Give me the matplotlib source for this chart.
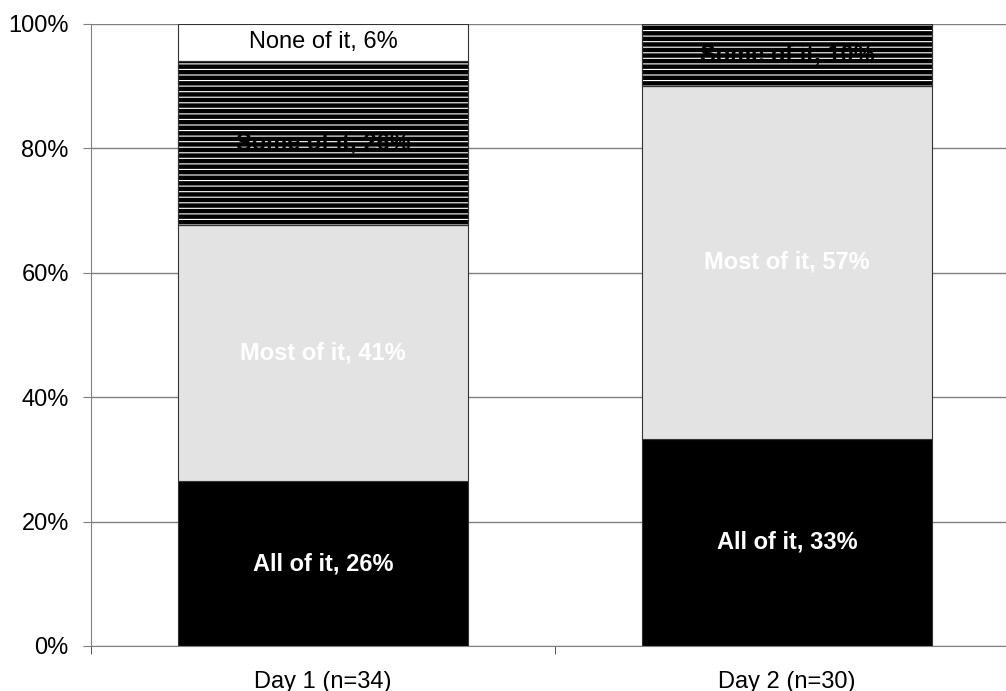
import matplotlib.pyplot as plt
import numpy as np

plt.rcParams["font.family"] = ["Liberation Sans", "DejaVu Sans"]
plt.rcParams["hatch.linewidth"] = 0.8

# responses per day (counts), stacked bottom to top
days = ["Day 1", "Day 2"]
n_resp = [34, 30]
segments = ["All of it", "Most of it", "Some of it", "None of it"]
counts_day1 = [9, 14, 9, 2]
counts_day2 = [10, 17, 3, 0]

face_colors = ["black", "#e3e3e3", "black", "white"]
text_colors = ["white", "white", "black", "black"]
text_weights = ["bold", "bold", "bold", "normal"]

pct = np.array([counts_day1, counts_day2], dtype=float)
pct = pct / np.array(n_resp)[:, None] * 100

fig = plt.figure(figsize=(10.06, 6.91), dpi=100)
ax = fig.add_axes([91 / 1006, 45 / 691, 928 / 1006, 622 / 691])

x = np.arange(len(days))
width = 0.627
bottoms = np.zeros(len(days))
fs = 17

for j, seg in enumerate(segments):
    vals = pct[:, j]
    ax.bar(x, vals, width, bottom=bottoms, color=face_colors[j],
           edgecolor="#333333", linewidth=0.8, zorder=2)
    if seg == "Some of it":
        # striped fill: light lines over the black base
        ax.bar(x, vals, width, bottom=bottoms, facecolor="none",
               edgecolor="white", hatch="---", linewidth=0, zorder=3)
        ax.bar(x, vals, width, bottom=bottoms, facecolor="none",
               edgecolor="#333333", linewidth=0.8, zorder=3)
    for i in range(len(days)):
        if vals[i] > 0:
            ax.text(x[i], bottoms[i] + vals[i] / 2, f"{seg}, {vals[i]:.0f}%",
                    ha="center", va="center", fontsize=fs,
                    color=text_colors[j], fontweight=text_weights[j], zorder=4)
    bottoms += vals

ax.set_xlim(-0.5, 1.5)
ax.set_ylim(0, 100)
ax.set_yticks(np.arange(0, 101, 20))
ax.set_yticklabels([f"{v}%" for v in range(0, 101, 20)], fontsize=fs)
ax.yaxis.grid(True, color="#808080", linewidth=1, zorder=0)
ax.set_axisbelow(True)

ax.set_xticks(x)
ax.set_xticklabels([f"{d} (n={n})" for d, n in zip(days, n_resp)], fontsize=fs)
ax.tick_params(axis="x", which="major", length=0, pad=18)
ax.set_xticks([-0.5, 0.5, 1.5], minor=True)
ax.tick_params(axis="x", which="minor", length=6, color="#333333")
ax.tick_params(axis="y", length=6, color="#808080", pad=10)

for side in ["top", "right"]:
    ax.spines[side].set_visible(False)
ax.spines["left"].set_color("#808080")
ax.spines["bottom"].set_color("#808080")

fig.savefig("out.png", dpi=100)
